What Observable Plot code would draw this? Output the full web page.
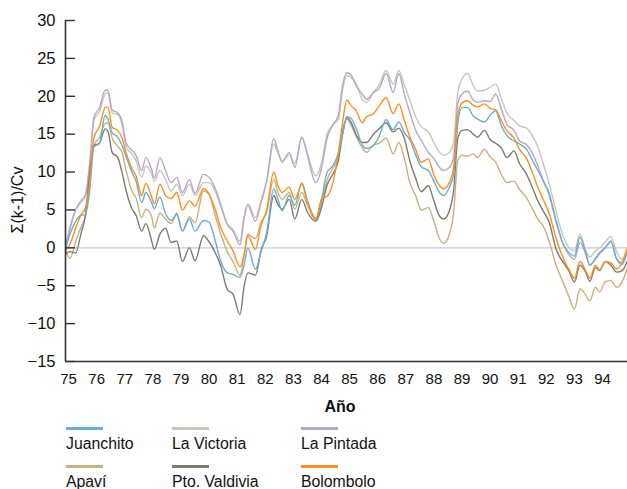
<!DOCTYPE html>
<html><head><meta charset="utf-8">
<script src="https://cdn.jsdelivr.net/npm/d3@7"></script>
<script src="https://cdn.jsdelivr.net/npm/@observablehq/plot@0.6"></script>
<style>
body{margin:0;background:#fff;font-family:"Liberation Sans",Arial,Helvetica,sans-serif;color:#111;}
#wrap{position:relative;width:627px;height:489px;overflow:hidden;}
#chart{position:absolute;left:0;top:0;}
#ytitle{position:absolute;left:17.5px;top:200px;transform:translate(-50%,-50%) rotate(-90deg);font-size:16px;white-space:nowrap;}
#xtitle{position:absolute;left:340px;top:407px;transform:translate(-50%,-50%);font-size:16px;font-weight:bold;}
.item{position:absolute;font-size:15.8px;white-space:nowrap;}
.sw{position:absolute;width:37px;height:3px;}
</style></head><body>
<div id="wrap"><div id="chart"></div><div id="ytitle">Σ(k-1)/Cv</div><div id="xtitle">Año</div><div id="legend"></div></div>
<script>
const years = [74.9, 75.05, 75.25, 75.45, 75.6, 75.75, 75.9, 76.1, 76.3, 76.4,
 76.55, 76.75, 76.9, 77.05, 77.25, 77.4, 77.6, 77.75, 77.95, 78.05,
 78.25, 78.45, 78.65, 78.85, 79.05, 79.3, 79.5, 79.8, 80.0, 80.2,
 80.4, 80.65, 80.85, 81.1, 81.25, 81.38, 81.65, 81.85, 82.05, 82.3,
 82.45, 82.6, 82.85, 83.05, 83.3, 83.5, 83.8, 84.0, 84.2, 84.4,
 84.6, 84.75, 84.9, 85.05, 85.25, 85.45, 85.6, 85.85, 86.05, 86.3,
 86.55, 86.75, 86.95, 87.15, 87.35, 87.55, 87.8, 88.0, 88.2, 88.35,
 88.55, 88.7, 88.85, 89.0, 89.2, 89.4, 89.55, 89.8, 90.0, 90.2,
 90.4, 90.6, 90.85, 91.05, 91.3, 91.5, 91.7, 91.9, 92.1, 92.35,
 92.6, 92.8, 93.0, 93.2, 93.4, 93.55, 93.75, 93.9, 94.1, 94.3,
 94.5, 94.7, 94.89];

const laPintada = [0.2, 2.5, 5.0, 6.3, 7.0, 11.0, 17.2, 18.5, 20.8, 20.8,
 18.2, 17.8, 16.8, 13.8, 12.9, 12.2, 10.2, 11.9, 10.4, 9.2,
 11.9, 10.2, 8.6, 9.3, 7.3, 9.0, 7.2, 9.7, 9.3, 8.0,
 5.9, 3.1, 2.2, 0.4, 4.0, 5.6, 3.5, 6.0, 8.8, 14.4,
 12.8, 11.3, 12.6, 10.6, 14.6, 12.2, 8.6, 10.5, 14.5, 16.2,
 17.5, 21.4, 23.1, 22.8, 21.3, 20.3, 19.6, 20.5, 21.0, 23.0,
 20.5, 23.0, 20.2, 17.8, 15.5, 14.2, 12.6, 11.8, 10.6, 10.2,
 10.6, 11.9, 19.0, 20.3, 20.7, 19.5, 19.2, 19.4, 19.3, 20.3,
 18.3, 16.3, 15.5, 14.1, 13.6, 12.5, 10.8, 8.8, 7.0, 3.4,
 0.5, -0.9, -1.5, 0.7, -0.8, -2.3, -1.5, -0.8, 0.0, 0.8,
 -1.5, -2.2, -0.3];

const laVictoria = [0.3, 2.8, 5.0, 6.0, 6.8, 11.0, 16.8, 18.0, 20.3, 20.5,
 17.8, 17.6, 16.3, 13.3, 12.4, 11.5, 9.3, 10.8, 9.8, 8.8,
 10.2, 9.0, 7.5, 8.4, 6.9, 8.4, 6.9, 8.6, 8.6, 7.6,
 5.6, 3.1, 2.4, 0.9, 4.2, 5.8, 4.0, 6.2, 8.8, 13.7,
 12.5, 11.5, 12.3, 11.1, 14.6, 12.4, 9.5, 11.2, 15.0, 16.2,
 17.0, 20.8, 22.7, 22.5, 21.5, 19.6, 19.2, 20.5, 21.5, 23.4,
 21.6, 23.4, 21.5, 19.4, 17.3, 16.0, 15.3, 13.9, 12.6, 12.2,
 12.6, 13.8, 20.5, 22.3, 23.0, 21.4, 20.7, 20.8, 21.2, 21.6,
 19.7, 17.8, 16.8, 16.1, 15.8, 14.8, 13.3, 11.0, 8.5, 4.8,
 1.5, 0.1, -0.4, 1.8, -0.3, -1.2, -0.4, 0.0, 0.8, 1.5,
 -0.5, -1.5, 0.0];

const bolombolo = [-0.3, 0.5, 2.6, 4.4, 5.3, 8.5, 14.5, 16.0, 18.5, 18.6,
 15.9, 15.5, 14.5, 12.5, 10.5, 9.5, 6.9, 8.5, 6.8, 5.8,
 8.4, 6.9, 6.5, 7.3, 5.0, 6.2, 5.5, 7.8, 7.1, 5.3,
 2.8, 0.9, -0.4, -2.5, -0.8, 1.6, -0.2, 3.0, 5.0, 10.0,
 8.2, 7.3, 8.0, 6.4, 8.4, 6.0, 3.8, 6.4, 6.8, 8.5,
 12.5, 16.5, 19.5, 18.8, 18.0, 16.5, 17.3, 17.7, 18.7, 19.8,
 17.7, 19.0, 16.8, 14.6, 13.0, 11.3, 11.7, 9.6, 8.2, 7.8,
 8.6, 10.6, 17.5, 19.1, 19.4, 18.8, 18.6, 19.0, 18.4, 18.2,
 16.8, 15.4, 14.5, 13.0, 11.8, 10.0, 8.0, 6.3, 4.6, 1.2,
 -1.3, -2.8, -4.0, -1.8, -3.0, -4.0, -2.3, -2.9, -1.8, -2.0,
 -2.8, -1.9, 0.0];

const juanchito = [0.0, 1.8, 3.5, 4.3, 4.4, 7.5, 13.3, 13.8, 17.5, 17.0,
 15.2, 14.6, 13.5, 12.0, 10.0, 8.8, 6.0, 7.3, 6.0, 5.2,
 6.7, 4.5, 3.6, 4.4, 2.2, 3.8, 2.2, 3.6, 3.4, 1.2,
 -1.6, -3.3, -3.5, -3.9, -2.2, 0.0, -2.8, -0.5, 2.0, 7.8,
 6.4, 4.9, 6.9, 5.6, 8.6, 6.2, 3.8, 6.4, 10.0, 10.8,
 12.5, 15.0, 17.3, 17.1, 15.6, 13.6, 13.1, 13.5, 14.7, 16.9,
 15.6, 16.6, 15.2, 14.2, 12.3, 10.7, 10.2, 8.8, 7.3, 6.9,
 8.0, 9.7, 16.3, 18.5, 18.5, 17.4, 17.0, 16.6, 17.5, 18.1,
 16.1, 14.8, 14.1, 13.7, 13.0, 11.6, 10.2, 8.8, 7.2, 3.6,
 0.5, -0.6, -1.1, 1.4, -0.6, -2.3, -1.4, -0.6, 0.0, 0.9,
 -1.4, -2.0, -0.4];

const apavi = [-0.4, -1.4, 0.8, 2.8, 4.2, 9.5, 13.5, 14.6, 16.4, 16.5,
 14.5, 13.4, 12.6, 10.2, 7.5, 6.6, 4.0, 5.1, 4.2, 2.6,
 4.6, 3.8, 3.2, 4.6, 2.2, 4.1, 3.3, 7.5, 7.1, 4.5,
 2.0, -0.5, -1.8, -3.6, -0.8, 1.8, 1.2, 3.4, 4.7, 9.1,
 7.3, 6.4, 7.3, 5.1, 7.3, 5.6, 3.6, 6.0, 9.0, 10.5,
 12.0, 15.5, 17.0, 16.2, 14.6, 13.2, 12.6, 13.6, 13.8, 14.5,
 12.4, 13.9, 11.8, 8.5, 6.9, 5.0, 5.3, 3.5, 1.2, 0.6,
 1.8, 4.5, 11.5, 12.2, 12.1, 12.4, 11.9, 13.0, 12.0, 11.3,
 9.7, 8.6, 8.8, 7.7, 6.6, 5.2, 3.8, 2.8, 0.9, -2.3,
 -4.6, -6.4, -8.1, -5.4, -6.2, -7.0, -5.2, -5.8, -4.5, -4.3,
 -5.2, -4.5, -2.6];

const ptoValdivia = [-0.8, -0.5, -0.7, 2.0, 4.3, 9.7, 13.5, 13.8, 15.7, 15.4,
 12.6, 11.9, 10.0, 7.5, 5.2, 4.3, 2.2, 3.2, 1.0, -0.2,
 1.8, 2.6, 0.7, 0.9, -1.8, 0.0, -1.7, 1.6, 0.8, -0.5,
 -2.2, -5.5, -6.1, -8.8, -5.0, -3.3, -3.6, -0.3, 1.6, 6.9,
 5.7, 5.1, 6.4, 3.8, 6.4, 4.7, 3.5, 5.3, 8.3, 9.7,
 11.5, 15.0, 17.2, 16.6, 14.8, 13.9, 13.9, 15.0, 15.7, 16.5,
 15.3, 15.8, 14.4, 11.4, 9.2, 7.4, 8.2, 6.2, 4.2, 3.8,
 4.9, 7.5, 14.4, 15.5, 15.6, 15.0, 14.6, 15.5, 14.3, 13.8,
 13.2, 11.9, 12.8, 11.1, 9.7, 8.0, 6.2, 4.8, 3.4, -0.2,
 -1.9, -3.0, -4.5, -2.3, -3.2, -4.4, -2.6, -3.0, -1.8, -2.3,
 -3.2, -3.0, -1.7];

const seriesNames = ["Juanchito", "La Victoria", "La Pintada", "Apaví", "Pto. Valdivia", "Bolombolo"];
const seriesValues = [juanchito, laVictoria, laPintada, apavi, ptoValdivia, bolombolo];
const seriesColors = ["#6aaed3", "#c6c7bb", "#baa5c9", "#cbb07d", "#7f7a70", "#f7901e"];
const drawOrder = ["La Victoria", "La Pintada", "Apaví", "Pto. Valdivia", "Juanchito", "Bolombolo"];
const xTicks = d3.range(75, 95);
const yTicks = [-15, -10, -5, 0, 5, 10, 15, 20, 25, 30];

const xDomain = [74.89, 94.89];
const yDomain = [-15, 30];

const table = seriesNames.flatMap((name, s) =>
  years.map((x, i) => ({name, x, y: seriesValues[s][i]})));

const colorOf = Object.fromEntries(seriesNames.map((n, i) => [n, seriesColors[i]]));

const lineMarks = drawOrder.map(name =>
  Plot.line(table.filter(d => d.name === name), {
    x: "x", y: "y", stroke: colorOf[name], strokeWidth: 1.4, curve: "monotone-x"
  }));

const chart = Plot.plot({
  width: 627,
  height: 392,
  marginLeft: 65,
  marginRight: 0,
  marginTop: 20,
  marginBottom: 31,
  style: {fontFamily: "'Liberation Sans', Arial, sans-serif", background: "white", color: "#111", overflow: "visible"},
  x: {domain: xDomain},
  y: {domain: yDomain},
  marks: [
    Plot.ruleY([0], {stroke: "#c3ccd4", strokeWidth: 1.2}),
    ...lineMarks,
    Plot.ruleX([xDomain[0]], {stroke: "#333", strokeWidth: 1.6}),
    Plot.ruleY([yDomain[0]], {stroke: "#333", strokeWidth: 1.6}),
    Plot.axisY({ticks: yTicks, tickSize: 10, dx: 10, tickFormat: () => "", stroke: "#333", strokeWidth: 1.4, label: null}),
    Plot.axisY({ticks: yTicks, tickSize: 0, tickPadding: 10, fontSize: 16.5, label: null}),
    Plot.axisX({ticks: xTicks, tickSize: 0, tickPadding: 12, fontSize: 15, tickFormat: d => String(d), label: null})
  ]
});
document.getElementById("chart").appendChild(chart);

const legend = document.getElementById("legend");
const legendCols = [66, 172, 301];
const legendRows = [428, 466];
seriesNames.forEach((name, i) => {
  const col = i % 3, row = Math.floor(i / 3);
  const sw = document.createElement("div");
  sw.className = "sw";
  sw.style.left = legendCols[col] + "px";
  sw.style.top = (legendRows[row] - 1.5) + "px";
  sw.style.background = seriesColors[i];
  legend.appendChild(sw);
  const t = document.createElement("div");
  t.className = "item";
  t.style.left = legendCols[col] + "px";
  t.style.top = (legendRows[row] + 7) + "px";
  t.textContent = name;
  legend.appendChild(t);
});
</script>
</body></html>
